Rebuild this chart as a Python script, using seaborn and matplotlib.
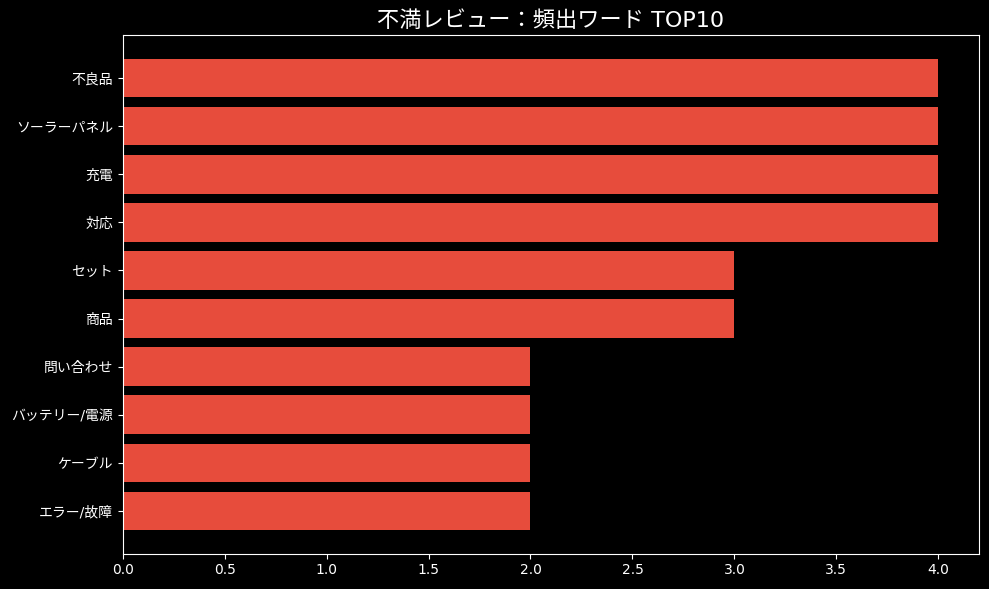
import matplotlib
matplotlib.use('Agg')
import matplotlib.pyplot as plt
import seaborn as sns
import pandas as pd

# data
words = ['不良品', 'ソーラーパネル', '充電', '対応', 'セット', '商品',
         '問い合わせ', 'バッテリー/電源', 'ケーブル', 'エラー/故障']
counts = [4, 4, 4, 4, 3, 3, 2, 2, 2, 2]

plt.style.use('dark_background')
plt.rcParams['font.family'] = ['DejaVu Sans', 'Noto Sans CJK JP']

df = pd.DataFrame({'word': words, 'count': counts})

fig, ax = plt.subplots(figsize=(9.89, 5.89), dpi=100)
sns.barplot(data=df, x='count', y='word', orient='h', color='#e74c3c',
            saturation=1, width=0.8, ax=ax)
n = len(words)
ax.set_ylim(n - 1 + 0.4 + 0.49, -0.4 - 0.49)
ax.set_xlim(0, 4.2)
ax.set_xlabel('')
ax.set_ylabel('')
ax.tick_params(labelsize=10)
ax.set_title('不満レビュー：頻出ワード TOP10', fontsize=16)
for s in ax.spines.values():
    s.set_color('white')
plt.subplots_adjust(left=0.124, right=0.99, top=0.94, bottom=0.06)
plt.savefig('out.png', dpi=100)
